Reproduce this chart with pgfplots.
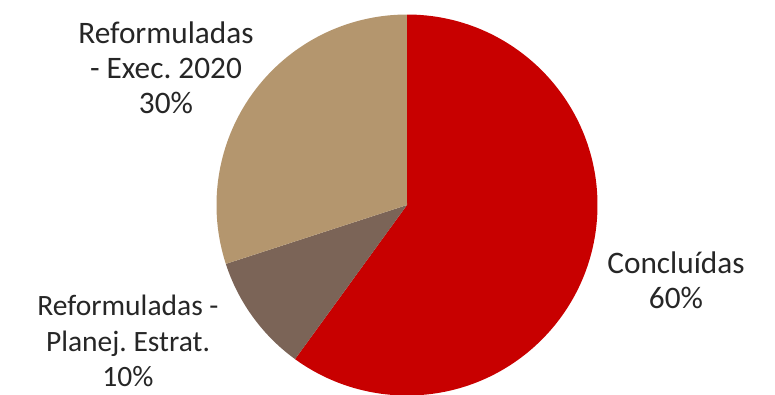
\documentclass[border=0pt]{standalone}
\usepackage{pgfplots}
\usepackage{pgfplotstable}
\pgfplotsset{compat=1.18}
\usepackage{fontspec}
\setmainfont{Carlito}
\frenchspacing
\definecolor{cRed}{HTML}{C80000}
\definecolor{cBrown}{HTML}{7B6457}
\definecolor{cTan}{HTML}{B4966E}
\definecolor{cText}{HTML}{262626}
\pgfplotstableread{
label value
Concluidas 60
Planej 10
Exec 30
}\piedata
\pgfplotstablegetelem{0}{value}\of\piedata \let\vA\pgfplotsretval
\pgfplotstablegetelem{1}{value}\of\piedata \let\vB\pgfplotsretval
\pgfplotstablegetelem{2}{value}\of\piedata \let\vC\pgfplotsretval
\pgfmathsetmacro\tot{\vA+\vB+\vC}
\pgfmathsetmacro\aA{90-(\vA/\tot)*360}
\pgfmathsetmacro\aB{\aA-(\vB/\tot)*360}
\pgfmathsetmacro\aC{\aB-(\vC/\tot)*360}
\begin{document}
\begin{tikzpicture}
\begin{axis}[
  scale only axis, width=7.75cm, height=3.94cm,
  xmin=0, xmax=775, ymin=0, ymax=394,
  hide axis, clip=true,
]
\path (axis cs:0,0) rectangle (axis cs:775,394);
\def\R{1.905cm}
\fill[cRed] (axis cs:407,189) -- ++(90:\R) arc[start angle=90, end angle=\aA, radius=\R] -- cycle;
\fill[cBrown] (axis cs:407,189) -- ++(\aA:\R) arc[start angle=\aA, end angle=\aB, radius=\R] -- cycle;
\fill[cTan] (axis cs:407,189) -- ++(\aB:\R) arc[start angle=\aB, end angle=\aC, radius=\R] -- cycle;
\node[align=center, text=cText, font=\fontsize{8.9}{10}\selectfont] at (axis cs:676,114) {Concluídas\\60\%};
\node[align=center, text=cText, font=\fontsize{8.9}{10}\selectfont] at (axis cs:166,326) {Reformuladas\\- Exec. 2020\\30\%};
\node[align=center, text=cText, font=\fontsize{8.4}{10}\selectfont] at (axis cs:128,53) {Reformuladas -\\Planej. Estrat.\\10\%};
\end{axis}
\end{tikzpicture}
\end{document}
